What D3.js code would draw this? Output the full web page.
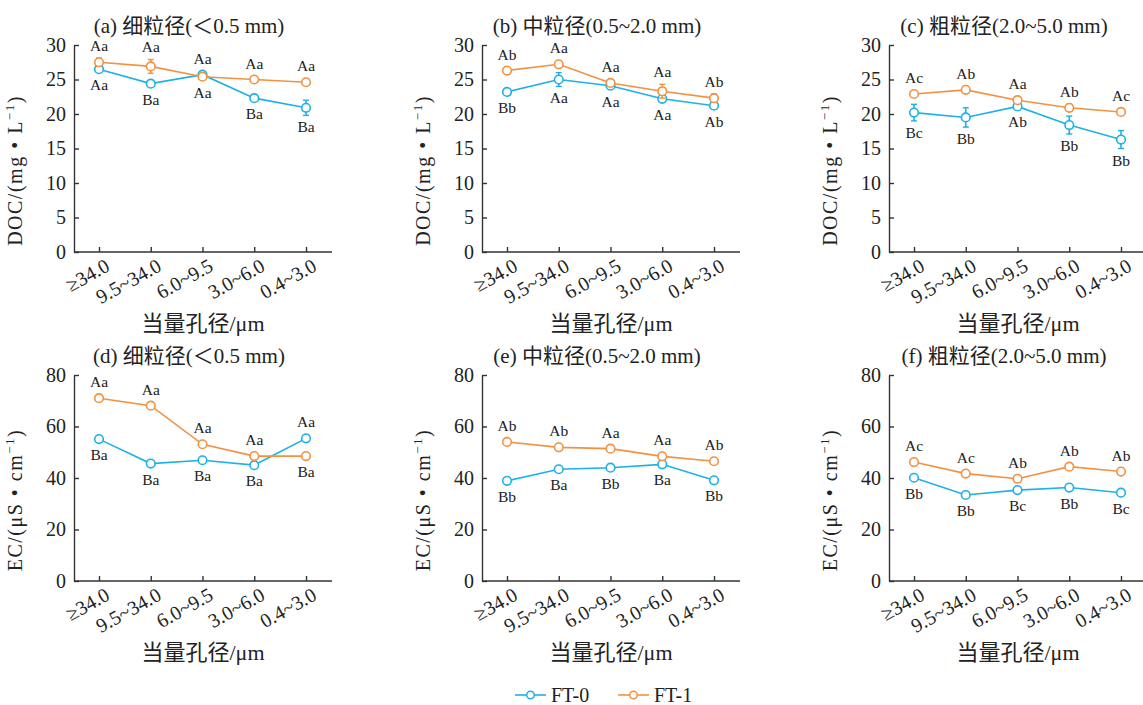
<!DOCTYPE html>
<html>
<head>
<meta charset="utf-8">
<script src="https://cdn.jsdelivr.net/npm/d3@7"></script>
<style>
  body { margin: 0; background: #fff; }
  text { font-family: "Liberation Serif", "Noto Sans CJK SC", serif; fill: #222; }
</style>
</head>
<body>
<script>
// pore size classes (x axis)
var categories = ["≥34.0", "9.5~34.0", "6.0~9.5", "3.0~6.0", "0.4~3.0"];
var seriesNames = ["FT-0", "FT-1"];
var colors = ["#1db1e8", "#f39140"];

// DOC (mg/L)
var docFine0 = [26.5, 24.4, 25.7, 22.3, 20.9];
var docFine1 = [27.5, 26.9, 25.4, 25.0, 24.6];
var docFine0Err = [0.4, 0.3, 0.3, 0.4, 1.1];
var docFine1Err = [0.6, 1.0, 0.3, 0.3, 0.3];
var docMid0 = [23.2, 25.0, 24.1, 22.2, 21.2];
var docMid1 = [26.3, 27.2, 24.5, 23.3, 22.3];
var docMid0Err = [0.3, 1.0, 0.3, 0.3, 0.5];
var docMid1Err = [0.3, 0.3, 0.4, 1.0, 0.6];
var docCoarse0 = [20.2, 19.5, 21.1, 18.4, 16.3];
var docCoarse1 = [22.9, 23.5, 22.0, 20.9, 20.3];
var docCoarse0Err = [1.2, 1.4, 0.5, 1.3, 1.3];
var docCoarse1Err = [0.3, 0.5, 0.3, 0.5, 0.3];

// EC (uS/cm)
var ecFine0 = [55.1, 45.6, 46.9, 45.0, 55.4];
var ecFine1 = [71.0, 68.1, 53.1, 48.5, 48.5];
var ecMid0 = [38.9, 43.4, 44.0, 45.3, 39.1];
var ecMid1 = [54.0, 51.9, 51.4, 48.4, 46.5];
var ecCoarse0 = [40.1, 33.4, 35.3, 36.3, 34.3];
var ecCoarse1 = [46.2, 41.7, 39.7, 44.4, 42.5];
var ecErr = [0.6, 0.6, 0.6, 0.8, 0.6];

// significance letters
var docFine0Lab = ["Aa", "Ba", "Aa", "Ba", "Ba"];
var docFine1Lab = ["Aa", "Aa", "Aa", "Aa", "Aa"];
var docMid0Lab = ["Bb", "Aa", "Aa", "Aa", "Ab"];
var docMid1Lab = ["Ab", "Aa", "Aa", "Aa", "Ab"];
var docCoarse0Lab = ["Bc", "Bb", "Ab", "Bb", "Bb"];
var docCoarse1Lab = ["Ac", "Ab", "Aa", "Ab", "Ac"];
var ecFine0Lab = ["Ba", "Ba", "Ba", "Ba", "Aa"];
var ecFine1Lab = ["Aa", "Aa", "Aa", "Aa", "Ba"];
var ecMid0Lab = ["Bb", "Ba", "Bb", "Ba", "Bb"];
var ecMid1Lab = ["Ab", "Ab", "Aa", "Aa", "Ab"];
var ecCoarse0Lab = ["Bb", "Bb", "Bc", "Bb", "Bc"];
var ecCoarse1Lab = ["Ac", "Ac", "Ab", "Ab", "Ab"];

var titles = ["(a) 细粒径(＜0.5 mm)", "(b) 中粒径(0.5~2.0 mm)", "(c) 粗粒径(2.0~5.0 mm)",
              "(d) 细粒径(＜0.5 mm)", "(e) 中粒径(0.5~2.0 mm)", "(f) 粗粒径(2.0~5.0 mm)"];
var docTicks = [0, 5, 10, 15, 20, 25, 30];
var ecTicks = [0, 20, 40, 60, 80];

var panels = [
  {v: [docFine0, docFine1], e: [docFine0Err, docFine1Err], l: [docFine0Lab, docFine1Lab], row: 0, col: 0},
  {v: [docMid0, docMid1], e: [docMid0Err, docMid1Err], l: [docMid0Lab, docMid1Lab], row: 0, col: 1},
  {v: [docCoarse0, docCoarse1], e: [docCoarse0Err, docCoarse1Err], l: [docCoarse0Lab, docCoarse1Lab], row: 0, col: 2},
  {v: [ecFine0, ecFine1], e: [ecErr, ecErr], l: [ecFine0Lab, ecFine1Lab], row: 1, col: 0},
  {v: [ecMid0, ecMid1], e: [ecErr, ecErr], l: [ecMid0Lab, ecMid1Lab], row: 1, col: 1},
  {v: [ecCoarse0, ecCoarse1], e: [ecErr, ecErr], l: [ecCoarse0Lab, ecCoarse1Lab], row: 1, col: 2}
];

var svg = d3.select("body").append("svg").attr("width", 1143).attr("height", 705);

var colX = [74, 482, 889];
var rowTop = [45, 375], rowBottom = [252, 581];
var plotW = 258;

panels.forEach(function(p, pi) {
  var x0 = colX[p.col], top = rowTop[p.row], bottom = rowBottom[p.row];
  var ticks = p.row === 0 ? docTicks : ecTicks;
  var x = d3.scalePoint().domain(categories).range([x0 + 25, x0 + 232]);
  var y = d3.scaleLinear().domain([0, d3.max(ticks)]).range([bottom, top]);
  var g = svg.append("g");

  var ya = g.append("g").attr("transform", "translate(" + x0 + ",0)")
    .call(d3.axisLeft(y).tickValues(ticks).tickSizeInner(-5).tickSizeOuter(0).tickPadding(8));
  var xa = g.append("g").attr("transform", "translate(0," + bottom + ")")
    .call(d3.axisBottom(x).tickSizeInner(-5).tickSizeOuter(0).tickFormat(""));
  xa.select(".domain").attr("d", "M" + x0 + ",0H" + (x0 + plotW));
  [ya, xa].forEach(function(a) {
    a.selectAll("path,line").attr("stroke", "#333").attr("stroke-width", 1.4);
  });
  ya.selectAll("text").attr("font-size", 20).attr("fill", "#222")
    .style("font-family", "Liberation Serif");

  // rotated category labels
  g.selectAll("text.cat").data(categories).enter().append("text")
    .attr("class", "cat")
    .attr("text-anchor", "end")
    .attr("font-size", 20)
    .attr("transform", function(d) { return "translate(" + (x(d) + 12) + "," + (bottom + 18) + ") rotate(-29)"; })
    .text(function(d) { return d; });

  g.append("text").attr("x", x0 + plotW / 2).attr("y", bottom + 79)
    .attr("text-anchor", "middle").attr("font-size", 22).text("当量孔径/μm");

  g.append("text").attr("x", x0 + plotW / 2 - 14).attr("y", top - 12)
    .attr("text-anchor", "middle").attr("font-size", 21).text(titles[pi]);

  // y axis label
  var yl = g.append("text")
    .attr("transform", "translate(" + (x0 - 52) + "," + ((top + bottom) / 2 + 22) + ") rotate(-90)")
    .attr("text-anchor", "middle").attr("font-size", 20).attr("letter-spacing", 1.5);
  if (p.row === 0) {
    yl.append("tspan").text("DOC/(mg • L");
  } else {
    yl.append("tspan").text("EC/(μS • cm");
  }
  yl.append("tspan").attr("font-size", 13).attr("dy", -8).text("−1");
  yl.append("tspan").attr("dy", 8).text(")");

  // series
  p.v.forEach(function(vals, si) {
    var other = p.v[1 - si];
    var errs = p.e[si];
    var line = d3.line().x(function(d, i) { return x(categories[i]); }).y(function(d) { return y(d); });
    g.append("path").datum(vals).attr("d", line)
      .attr("fill", "none").attr("stroke", colors[si]).attr("stroke-width", 1.6);

    var pts = g.selectAll("g.pt" + si).data(vals).enter().append("g").attr("class", "pt" + si);
    pts.append("line")
      .attr("x1", function(d, i) { return x(categories[i]); })
      .attr("x2", function(d, i) { return x(categories[i]); })
      .attr("y1", function(d, i) { return y(d + errs[i]); })
      .attr("y2", function(d, i) { return y(d - errs[i]); })
      .attr("stroke", colors[si]).attr("stroke-width", 1.6);
    [1, -1].forEach(function(s) {
      pts.append("line")
        .attr("x1", function(d, i) { return x(categories[i]) - 3; })
        .attr("x2", function(d, i) { return x(categories[i]) + 3; })
        .attr("y1", function(d, i) { return y(d + s * errs[i]); })
        .attr("y2", function(d, i) { return y(d + s * errs[i]); })
        .attr("stroke", colors[si]).attr("stroke-width", 1.4);
    });
    pts.append("circle")
      .attr("cx", function(d, i) { return x(categories[i]); })
      .attr("cy", function(d) { return y(d); })
      .attr("r", 4.3)
      .attr("fill", "#fff").attr("stroke", colors[si]).attr("stroke-width", 1.6);

    pts.append("text")
      .attr("text-anchor", "middle").attr("font-size", 15.5)
      .attr("x", function(d, i) { return x(categories[i]); })
      .attr("y", function(d, i) {
        var above = d >= other[i];
        var py = y(d);
        var ey = Math.abs(y(d + errs[i]) - py);
        var off = Math.max(ey, 4) + 6;
        return above ? py - off - 1 : py + off + 11;
      })
      .text(function(d, i) { return p.l[si][i]; });
  });
});

// legend
var legend = svg.append("g").attr("transform", "translate(515,695)");
seriesNames.forEach(function(name, i) {
  var lg = legend.append("g").attr("transform", "translate(" + (i * 103) + ",0)");
  lg.append("line").attr("x1", 0).attr("x2", 31).attr("y1", 0).attr("y2", 0)
    .attr("stroke", colors[i]).attr("stroke-width", 1.6);
  lg.append("circle").attr("cx", 15.5).attr("cy", 0).attr("r", 3.8)
    .attr("fill", "#fff").attr("stroke", colors[i]).attr("stroke-width", 1.5);
  lg.append("text").attr("x", 36).attr("y", 7).attr("font-size", 20).text(name);
});
</script>
</body>
</html>
